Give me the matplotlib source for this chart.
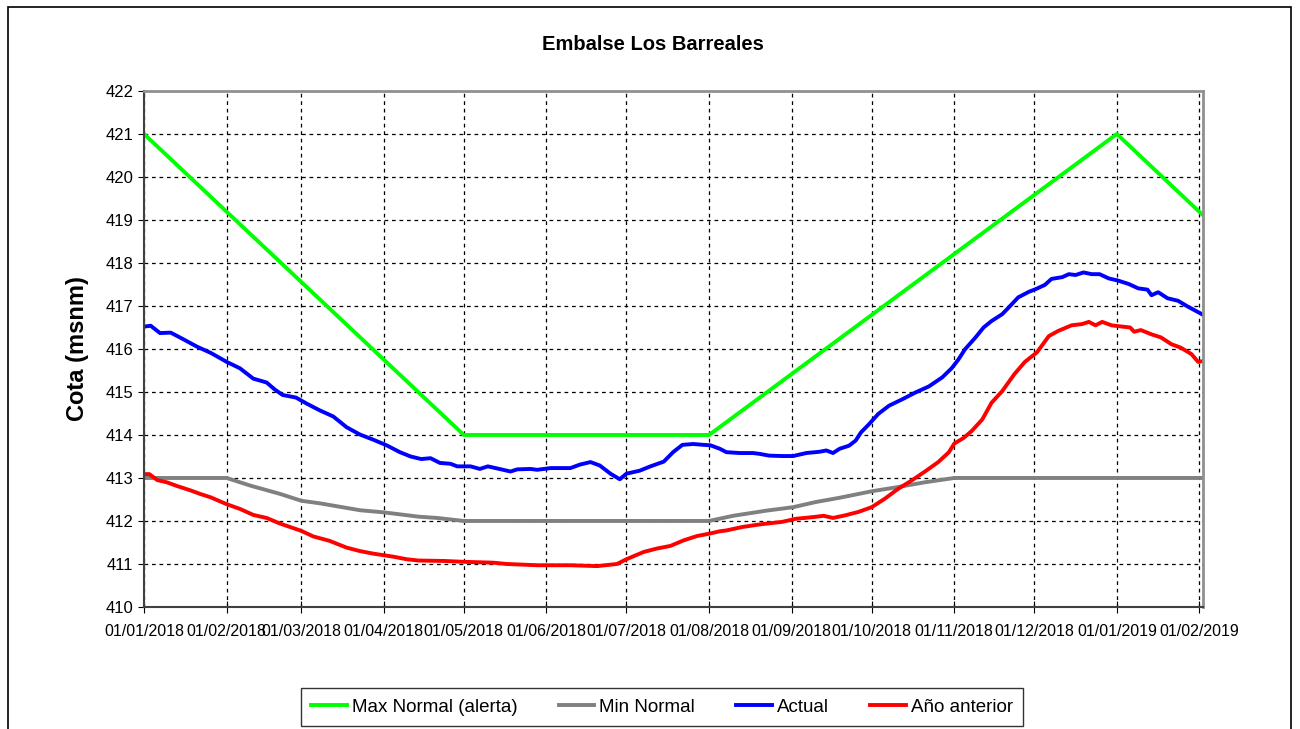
import numpy as np
import matplotlib
matplotlib.use("Agg")
import matplotlib.pyplot as plt
import matplotlib.dates as mdates
from matplotlib.patches import Rectangle

plt.rcParams['font.family'] = ['Liberation Sans', 'DejaVu Sans']

START = np.datetime64('2018-01-01')

# days counted from 01/01/2018
max_days = [0, 120, 212, 365, 397.5]
max_vals = [421.0, 414.0, 414.0, 421.0, 419.1]

min_days = [0, 31, 40, 51, 59, 66, 73.5, 81, 90, 103, 110, 120, 212, 221, 233.5,
            243.5, 252, 261, 273, 283, 293, 304, 397.5]
min_vals = [413.0, 413.0, 412.82, 412.63, 412.47, 412.41, 412.33, 412.25, 412.20,
            412.10, 412.07, 412.0, 412.0, 412.12, 412.24, 412.32, 412.44, 412.54,
            412.69, 412.79, 412.90, 413.0, 413.0]

actual_days = [0, 2.5, 6, 10, 14, 20, 25, 31, 36, 41, 46, 49, 52, 57, 61, 66, 71, 76,
               81, 86, 91, 96, 100, 104, 107.5, 111, 115, 117.5, 122.5, 126, 129, 134,
               137.5, 140, 145, 147.5, 152.5, 160, 163.5, 167.5, 171, 175, 178.5, 181,
               186, 190, 195, 198.5, 202, 206, 210, 212.5, 216, 218.5, 223.5, 228.5,
               231, 234.5, 239.5, 243.5, 248.5, 253.5, 256, 258.5, 261, 264.5, 267,
               269, 272, 275.5, 279.5, 284.5, 289.5, 294.5, 299.5, 303, 305.5, 308,
               312, 315, 318, 322, 324.5, 328, 332, 334.5, 338, 340.5, 344.5, 347,
               349.5, 352.5, 355.5, 358.5, 362, 365.5, 369.5, 373, 376.5, 378, 380.5,
               384, 388, 391.5, 397.5]
actual_vals = [416.52, 416.54, 416.37, 416.38, 416.25, 416.05, 415.91, 415.70, 415.55,
               415.31, 415.22, 415.06, 414.93, 414.87, 414.73, 414.57, 414.43, 414.18,
               414.01, 413.89, 413.76, 413.60, 413.50, 413.44, 413.46, 413.35, 413.33,
               413.27, 413.27, 413.21, 413.27, 413.20, 413.15, 413.20, 413.21, 413.19,
               413.23, 413.23, 413.31, 413.37, 413.29, 413.10, 412.97, 413.10, 413.17,
               413.27, 413.38, 413.60, 413.77, 413.79, 413.77, 413.76, 413.68, 413.60,
               413.58, 413.58, 413.56, 413.52, 413.51, 413.51, 413.58, 413.61, 413.64,
               413.58, 413.68, 413.75, 413.87, 414.06, 414.25, 414.49, 414.68, 414.83,
               414.99, 415.13, 415.34, 415.55, 415.75, 415.99, 416.27, 416.50, 416.65,
               416.81, 416.97, 417.20, 417.33, 417.39, 417.49, 417.63, 417.67, 417.74,
               417.72, 417.78, 417.74, 417.74, 417.64, 417.59, 417.51, 417.41, 417.38,
               417.25, 417.32, 417.18, 417.12, 416.99, 416.79]

prev_days = [0, 2, 5, 8.5, 12.5, 17.5, 21, 25, 31, 36, 41, 46, 51, 59, 63.5, 69.5, 76,
             81, 86, 93.5, 98.5, 103, 112.5, 120, 131, 136, 147.5, 160, 170, 177.5,
             181, 187.5, 192.5, 197.5, 202.5, 207.5, 212.5, 216, 218.5, 224.5, 231,
             239.5, 244.5, 251, 255, 258.5, 263, 268, 273, 278, 283, 288, 293, 298,
             302, 304, 307.5, 310.5, 314.5, 318, 322, 326.5, 330.5, 335, 339.5, 343,
             348, 352, 354.5, 357, 359.5, 363, 367, 370, 371.5, 374, 378, 381.5,
             385.5, 389, 393, 395.5, 397.5]
prev_vals = [413.09, 413.09, 412.95, 412.90, 412.81, 412.71, 412.63, 412.55, 412.39,
             412.28, 412.14, 412.07, 411.94, 411.77, 411.64, 411.54, 411.38, 411.30,
             411.24, 411.17, 411.11, 411.08, 411.07, 411.05, 411.03, 411.00, 410.97,
             410.97, 410.95, 411.00, 411.11, 411.28, 411.36, 411.42, 411.55, 411.65,
             411.71, 411.76, 411.78, 411.86, 411.92, 411.98, 412.05, 412.09, 412.12,
             412.07, 412.13, 412.21, 412.32, 412.52, 412.75, 412.94, 413.15, 413.37,
             413.60, 413.80, 413.93, 414.09, 414.36, 414.75, 415.02, 415.41, 415.70,
             415.92, 416.30, 416.42, 416.55, 416.58, 416.63, 416.55, 416.63, 416.55,
             416.52, 416.50, 416.40, 416.44, 416.34, 416.27, 416.11, 416.03, 415.88,
             415.70, 415.72]


def to_dates(days):
    hours = (np.array(days) * 24).astype(int)
    return START + hours.astype('timedelta64[h]')


fig = plt.figure(figsize=(13, 7.29), dpi=100)
ax = fig.add_axes([0.1108, 0.1674, 0.8146, 0.7078])

ax.plot(to_dates(max_days), max_vals, color='#00FF00', lw=2.8, label='Max Normal (alerta)')
ax.plot(to_dates(min_days), min_vals, color='#808080', lw=2.8, label='Min Normal')
ax.plot(to_dates(actual_days), actual_vals, color='#0000FF', lw=2.8, label='Actual')
ax.plot(to_dates(prev_days), prev_vals, color='#FF0000', lw=2.8, label='Año anterior')

ax.set_xlim(START, START + np.timedelta64(397 * 24 + 8, 'h'))
ax.set_ylim(410, 422)
ax.set_yticks(range(410, 423))
ax.xaxis.set_major_locator(mdates.MonthLocator())
ax.xaxis.set_major_formatter(mdates.DateFormatter('%d/%m/%Y'))
ax.tick_params(axis='x', direction='inout', length=8, labelsize=11.5, pad=8)
ax.tick_params(axis='y', direction='out', length=4, labelsize=12)

ax.grid(True, color='black', linestyle=(0, (3, 3)), linewidth=0.9)
for side in ['left', 'bottom']:
    ax.spines[side].set_color('#404040')
    ax.spines[side].set_linewidth(1.5)
for side in ['top', 'right']:
    ax.spines[side].set_color('#909090')
    ax.spines[side].set_linewidth(2)

ax.set_ylabel('Cota (msnm)', fontsize=17, fontweight='bold', labelpad=12)
fig.text(0.5025, 1 - 45 / 729, 'Embalse Los Barreales', ha='center', va='center',
         fontsize=14.5, fontweight='bold')

# outer chart frame
fig.patches.append(Rectangle((8 / 1300, -0.05), (1291 - 8) / 1300, 1.05 - 7 / 729,
                             transform=fig.transFigure, fill=False,
                             edgecolor='black', lw=1.2))

leg = fig.legend(loc='center', bbox_to_anchor=(662 / 1300, 1 - 707 / 729), ncol=4,
                 fontsize=13.5, frameon=True, fancybox=False, handlelength=1.9,
                 columnspacing=2.2, handletextpad=0.27, borderpad=0.55)
leg.get_frame().set_edgecolor('black')
leg.get_frame().set_linewidth(1)

fig.savefig('out.png', dpi=100)
